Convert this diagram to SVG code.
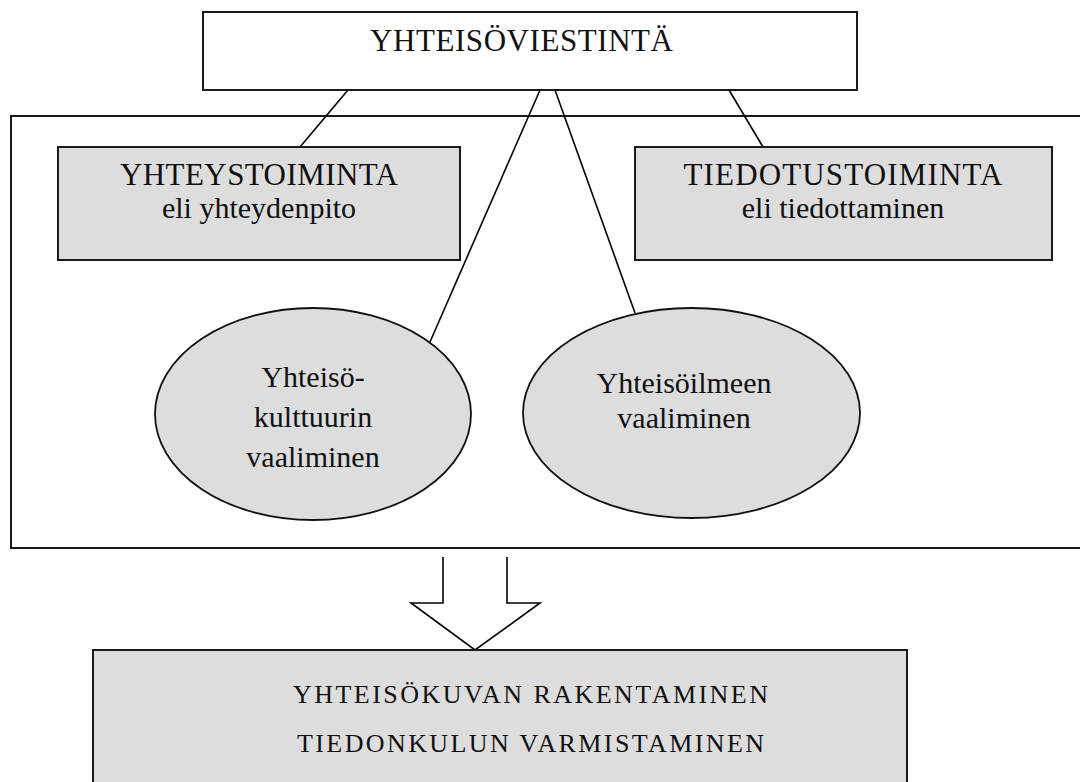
<svg xmlns="http://www.w3.org/2000/svg" width="1080" height="782" viewBox="0 0 1080 782">
<style>
text{font-family:"Liberation Serif","DejaVu Serif",serif;fill:#111;text-anchor:middle}
.t{font-size:30px}
.c{font-size:31px}
.b{font-size:26px}
.box{fill:#dddddd;stroke:#1a1a1a;stroke-width:2}
.wbox{fill:#ffffff;stroke:#1a1a1a;stroke-width:2}
.ell{fill:#dddddd;stroke:#111;stroke-width:1.8}
.ln{stroke:#000;stroke-width:1.6;fill:none}
</style>
<rect width="1080" height="782" fill="#ffffff"/>
<g id="container">
<rect class="wbox" x="11" y="116" width="1090" height="432" fill="none"/>
</g>
<g id="connectors">
<line class="ln" x1="348" y1="90" x2="300" y2="147"/>
<line class="ln" x1="540" y1="90" x2="430" y2="342"/>
<line class="ln" x1="555" y1="90" x2="635" y2="313"/>
<line class="ln" x1="729" y1="90" x2="763" y2="147"/>
<path d="M443,557 L443,603 L411,603 L475,650 L540,603 L507,603 L507,557" fill="#ffffff" stroke="#000" stroke-width="1.6"/>
</g>
<g id="yhteisoviestinta">
<rect class="wbox" x="203" y="12" width="654" height="78"/>
<text class="c" x="521.5" y="51" textLength="303">YHTEISÖVIESTINTÄ</text>
</g>
<g id="yhteystoiminta">
<rect class="box" x="58" y="147" width="402" height="113"/>
<text class="c" x="259" y="185" textLength="278">YHTEYSTOIMINTA</text>
<text class="t" x="259" y="218">eli yhteydenpito</text>
</g>
<g id="tiedotustoiminta">
<rect class="box" x="635" y="147" width="417" height="113"/>
<text class="c" x="843" y="185" textLength="319">TIEDOTUSTOIMINTA</text>
<text class="t" x="843" y="218">eli tiedottaminen</text>
</g>
<g id="yhteisokulttuuri">
<ellipse class="ell" cx="313" cy="414" rx="158" ry="106"/>
<text class="t" x="313" y="387">Yhteisö-</text>
<text class="t" x="313" y="427">kulttuurin</text>
<text class="t" x="313" y="467">vaaliminen</text>
</g>
<g id="yhteisoilme">
<ellipse class="ell" cx="691.5" cy="413" rx="168.5" ry="105"/>
<text class="t" x="684" y="393">Yhteisöilmeen</text>
<text class="t" x="684" y="428">vaaliminen</text>
</g>
<g id="yhteisokuva">
<rect class="box" x="93" y="650" width="814" height="150"/>
<text class="b" x="530.5" y="703" textLength="475">YHTEISÖKUVAN RAKENTAMINEN</text>
<text class="b" x="530.5" y="752" textLength="467">TIEDONKULUN VARMISTAMINEN</text>
</g>
</svg>
